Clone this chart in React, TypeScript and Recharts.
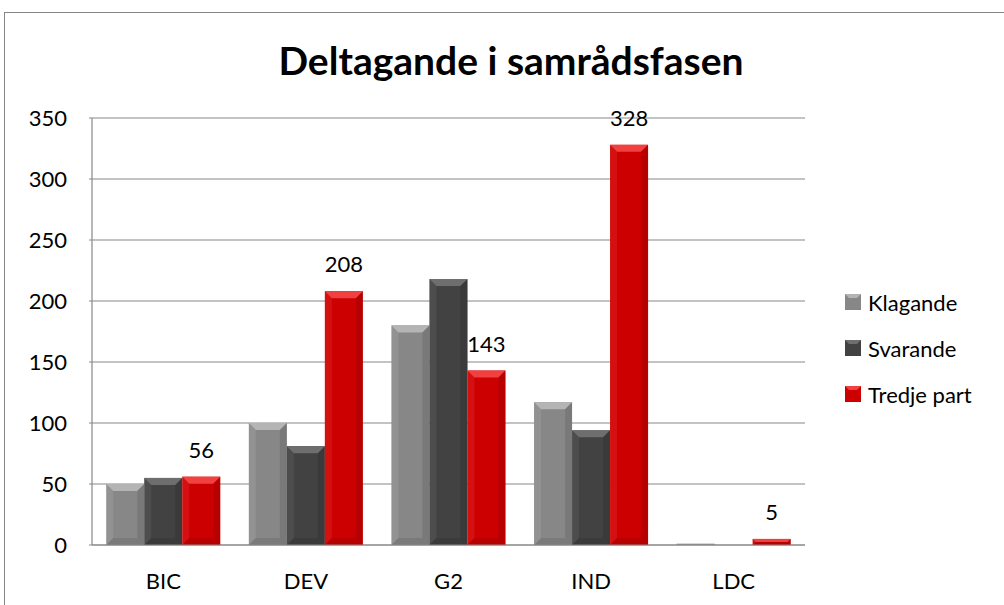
import { Bar, BarChart, CartesianGrid, LabelList, XAxis, YAxis } from "recharts";

const categories = ["BIC", "DEV", "G2", "IND", "LDC"];
const klagande = [50, 100, 180, 117, 1];
const svarande = [55, 81, 218, 94, 0];
const tredjePart = [56, 208, 143, 328, 5];
const yTicks = [0, 50, 100, 150, 200, 250, 300, 350];

const seriesInfo = [
  { key: "klagande", name: "Klagande", color: "#878787", light: "#b4b4b4", dark: "#5e5e5e" },
  { key: "svarande", name: "Svarande", color: "#424242", light: "#6e6e6e", dark: "#2a2a2a" },
  { key: "tredje", name: "Tredje part", color: "#cc0000", light: "#f04040", dark: "#8e0000" },
];

const data = categories.map((c, i) => ({
  cat: c,
  klagande: klagande[i],
  svarande: svarande[i],
  tredje: tredjePart[i],
}));

const FONT = "Lato, 'Noto Sans', sans-serif";

function bevelShape(color: string, light: string, dark: string) {
  return (props: any) => {
    const { x, y, width, height } = props;
    if (!height || height <= 0) return <g />;
    const b = Math.min(7, height / 2, width / 4);
    return (
      <g>
        <rect x={x} y={y} width={width} height={height} fill={color} />
        <polygon
          points={`${x},${y} ${x + width},${y} ${x + width - b},${y + b} ${x + b},${y + b}`}
          fill={light}
        />
        <polygon
          points={`${x},${y} ${x + b},${y + b} ${x + b},${y + height - b} ${x},${y + height}`}
          fill={light}
          opacity={0.25}
        />
        <polygon
          points={`${x + width},${y} ${x + width},${y + height} ${x + width - b},${y + height - b} ${x + width - b},${y + b}`}
          fill={dark}
          opacity={0.35}
        />
        <polygon
          points={`${x},${y + height} ${x + width},${y + height} ${x + width - b},${y + height - b} ${x + b},${y + height - b}`}
          fill={dark}
          opacity={0.3}
        />
      </g>
    );
  };
}

function LegendBox() {
  return (
    <div style={{ fontFamily: FONT, fontSize: 22, color: "#000" }}>
      {seriesInfo.map((s) => (
        <div key={s.key} style={{ display: "flex", alignItems: "center", height: 46 }}>
          <svg width={16} height={16} style={{ marginRight: 7 }}>
            <rect x={0} y={0} width={16} height={16} fill={s.color} />
            <polygon points="0,0 16,0 12,4 4,4" fill={s.light} />
          </svg>
          <span>{s.name}</span>
        </div>
      ))}
    </div>
  );
}

export default function App() {
  return (
    <div style={{ position: "absolute", left: 0, top: 0, width: 1004, height: 605, background: "#fff", overflow: "hidden" }}>
      <div
        style={{
          position: "absolute",
          left: 4,
          top: 12,
          width: 1020,
          height: 620,
          border: "1px solid #868686",
          boxSizing: "border-box",
        }}
      />
      <div
        style={{
          position: "absolute",
          left: 0,
          top: 37,
          width: 1022,
          textAlign: "center",
          fontFamily: FONT,
          fontWeight: 700,
          fontSize: 39,
          color: "#000",
        }}
      >
        Deltagande i samrådsfasen
      </div>
      <div style={{ position: "absolute", left: 845, top: 279 }}>
        <LegendBox />
      </div>
      <div style={{ position: "absolute", left: 0, top: 0 }}>
        <BarChart
          width={1004}
          height={605}
          data={data}
          margin={{ top: 118, right: 199, bottom: 0, left: 0 }}
          barCategoryGap="10%"
          barGap={0}
        >
          <CartesianGrid vertical={false} stroke="#888" strokeWidth={1.2} />
          <XAxis
            dataKey="cat"
            axisLine={{ stroke: "#888", strokeWidth: 1.2 }}
            tickLine={false}
            tickMargin={22}
            height={60}
            tick={{ fontFamily: FONT, fontSize: 22, fill: "#000" }}
          />
          <YAxis
            domain={[0, 350]}
            ticks={yTicks}
            width={92}
            axisLine={{ stroke: "#888", strokeWidth: 1.2 }}
            tickLine={{ stroke: "#888" }}
            tickSize={3}
            tickMargin={22}
            tick={{ fontFamily: FONT, fontSize: 22, fill: "#000" }}
          />
          {seriesInfo.map((s) => (
            <Bar
              key={s.key}
              dataKey={s.key}
              name={s.name}
              fill={s.color}
              isAnimationActive={false}
              shape={bevelShape(s.color, s.light, s.dark)}
            >
              {s.key === "tredje" && (
                <LabelList
                  dataKey="tredje"
                  position="top"
                  offset={19}
                  style={{ fontFamily: FONT, fontSize: 22, fill: "#000" }}
                />
              )}
            </Bar>
          ))}
        </BarChart>
      </div>
    </div>
  );
}
